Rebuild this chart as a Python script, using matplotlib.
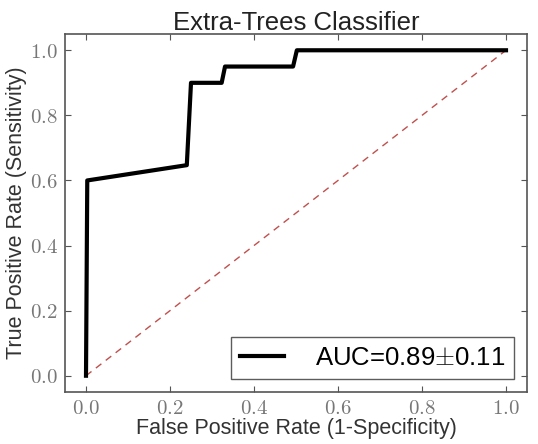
import numpy as np
import matplotlib
matplotlib.use("Agg")
import matplotlib.pyplot as plt
from matplotlib.ticker import FuncFormatter

# ROC curve points
fpr = [0.0, 0.003, 0.24, 0.25, 0.323, 0.331, 0.493, 0.502, 1.0]
tpr = [0.0, 0.60, 0.647, 0.90, 0.90, 0.95, 0.95, 1.0, 1.0]
chance = [0.0, 1.0]
auc_label = "AUC=0.89$\\pm$0.11"
ticks = [0.0, 0.2, 0.4, 0.6, 0.8, 1.0]

plt.rcParams["font.family"] = ["Liberation Sans", "DejaVu Sans"]
plt.rcParams["mathtext.fontset"] = "cm"

fig = plt.figure(figsize=(5.38, 4.44), dpi=100)
ax = fig.add_axes([65 / 538, 1 - 392 / 444, (527 - 65) / 538, (392 - 34) / 444])

ax.plot(chance, chance, linestyle="--", color="#c0504d", linewidth=1.0, dashes=(5, 4))
ax.plot(fpr, tpr, color="black", linewidth=3.0, label=auc_label)

ax.set_xlim(-0.05, 1.05)
ax.set_ylim(-0.05, 1.05)
ax.set_xticks(ticks)
ax.set_yticks(ticks)
fmt = FuncFormatter(lambda v, p: f"${v:.1f}$")
ax.xaxis.set_major_formatter(fmt)
ax.yaxis.set_major_formatter(fmt)
ax.tick_params(direction="in", top=True, right=True, length=4, color="#555555",
               labelcolor="#777777", labelsize=15, pad=5)
for s in ax.spines.values():
    s.set_color("#555555")
    s.set_linewidth(1.2)

ax.set_xlabel("False Positive Rate (1-Specificity)", fontsize=15.5, color="#333333", labelpad=0)
ax.set_ylabel("True Positive Rate (Sensitivity)", fontsize=15.5, color="#333333", labelpad=2)
ax.set_title("Extra-Trees Classifier", fontsize=18.5, color="#222222", pad=3)

leg = ax.legend(loc="lower right", fontsize=18.5, fancybox=False, frameon=True,
                handlelength=1.7, borderpad=0.35, handletextpad=1.2,
                borderaxespad=0.5)
leg.get_frame().set_edgecolor("#333333")
leg.get_frame().set_linewidth(1.0)

fig.savefig("out.png", dpi=100)
